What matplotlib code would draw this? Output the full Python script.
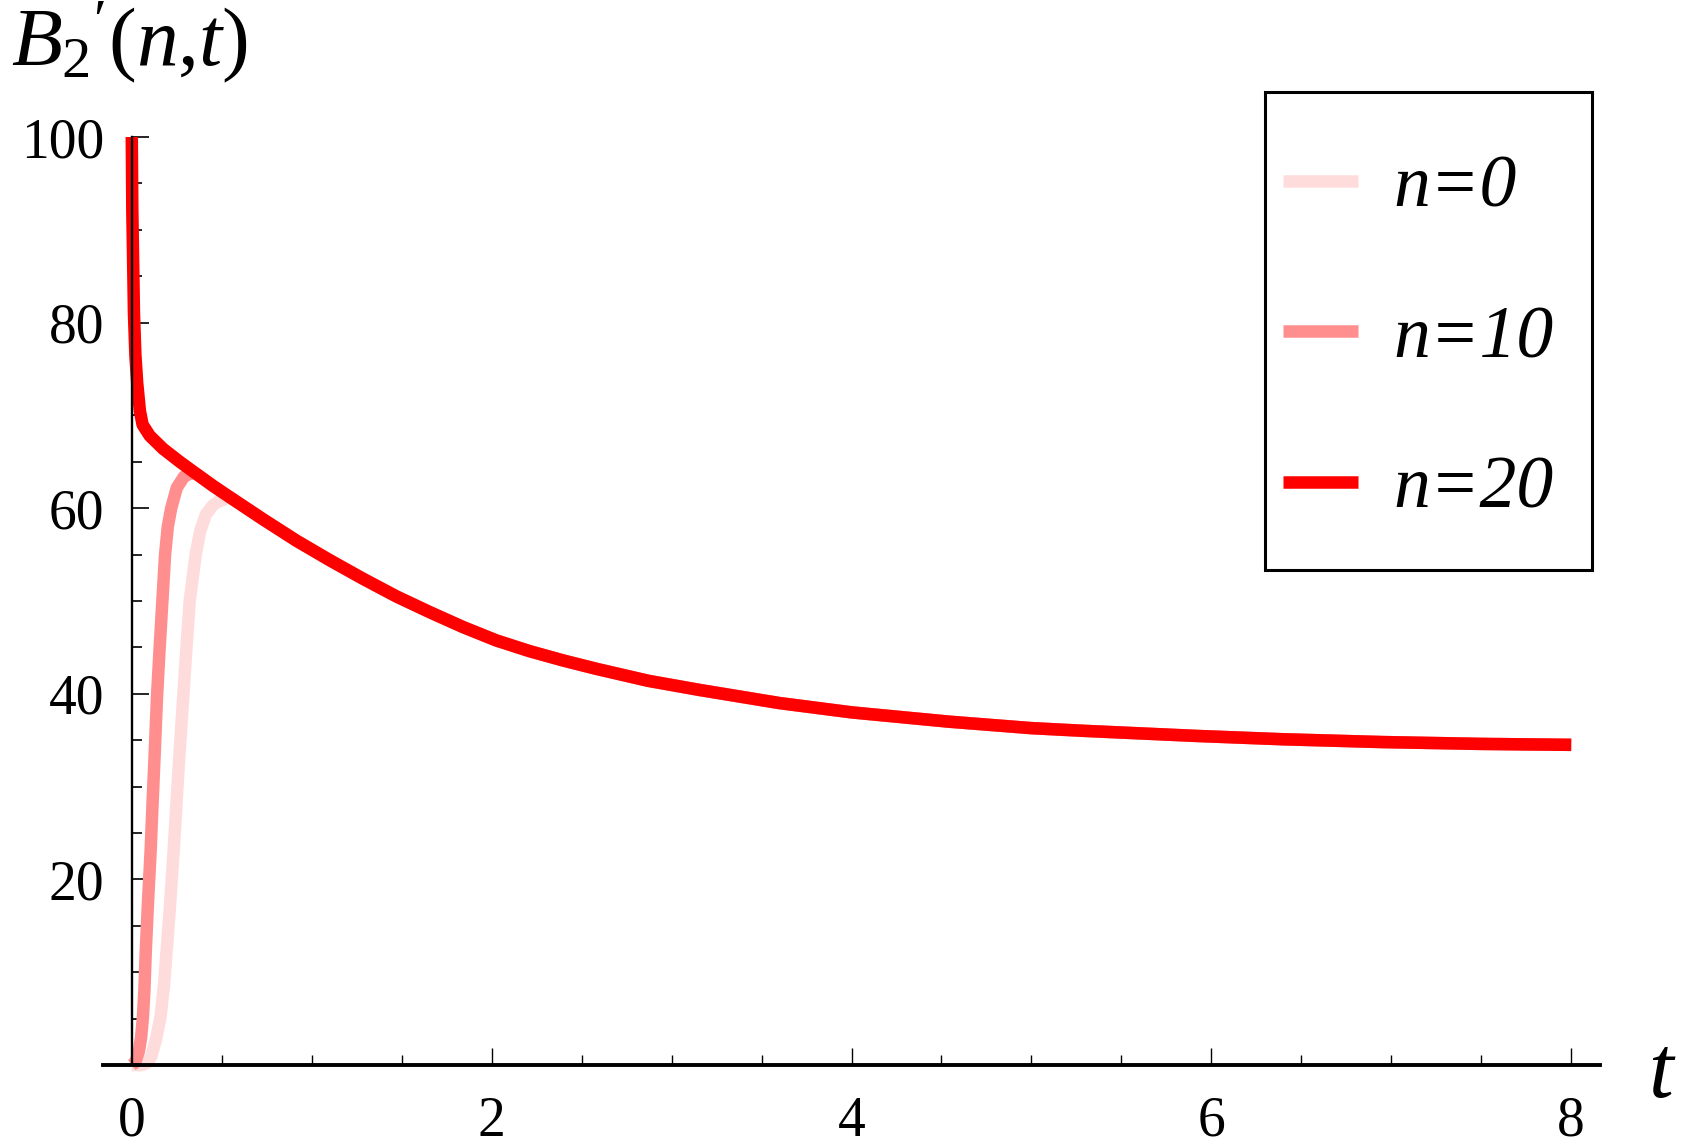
import numpy as np
import matplotlib
matplotlib.use("Agg")
import matplotlib.pyplot as plt
from matplotlib.ticker import MultipleLocator
from matplotlib.font_manager import FontProperties

plt.rcParams['font.family'] = ['Liberation Serif', 'DejaVu Serif']
plt.rcParams['mathtext.fontset'] = 'custom'
plt.rcParams['mathtext.rm'] = 'Liberation Serif'
plt.rcParams['mathtext.it'] = 'Liberation Serif:italic'

#------------------------------------------------------------------------------------------------------
# values

# common tail, all three curves lie on top of each other here
t_tail = [0.544, 0.73, 0.915, 1.1, 1.285, 1.47, 1.656, 1.84, 2.026, 2.21, 2.396, 2.58, 2.87,
          3.16, 3.6, 4.0, 4.54, 5.0, 5.3, 5.93, 6.4, 6.95, 7.5, 8.0]
b_tail = [61.2, 58.8, 56.5, 54.4, 52.4, 50.5, 48.8, 47.2, 45.75, 44.6, 43.6, 42.7, 41.4,
          40.4, 39.0, 38.0, 37.0, 36.3, 36.0, 35.45, 35.1, 34.8, 34.6, 34.5]

t_n0 = [0, 0.06, 0.09, 0.11, 0.135, 0.16, 0.18, 0.194, 0.21, 0.233, 0.26, 0.287, 0.304,
        0.322, 0.355, 0.38, 0.411, 0.45, 0.48, 0.52]
b_n0 = [0, 0, 0.3, 1.0, 2.8, 5.2, 8.8, 12.4, 16.5, 23.2, 32.0, 40.0, 45.0,
        50.0, 55.0, 57.5, 59.3, 60.3, 60.7, 61.0]

t_n10 = [0, 0.02, 0.04, 0.052, 0.062, 0.07, 0.078, 0.09, 0.105, 0.115, 0.125, 0.141, 0.155,
         0.17, 0.185, 0.2, 0.219, 0.25, 0.29, 0.33, 0.359, 0.452]
b_n10 = [0, 0.3, 1.5, 3.0, 5.2, 8.0, 12.4, 17.5, 23.2, 28.0, 32.5, 40.0, 45.0,
         50.0, 55.0, 58.0, 60.0, 62.2, 63.4, 63.8, 63.7, 62.4]

t_n20 = [0, 0.003, 0.008, 0.012, 0.02, 0.03, 0.045, 0.06, 0.1, 0.174, 0.267, 0.359, 0.452]
b_n20 = [100, 92, 86, 81, 76.5, 73.5, 70.5, 69.0, 67.8, 66.4, 65.0, 63.7, 62.4]

labels = ["n=0", "n=10", "n=20"]
colors = ["#ffdcdc", "#ff8f8f", "#ff0000"]

x_ticks = [0, 2, 4, 6, 8]
y_ticks = [20, 40, 60, 80, 100]

#------------------------------------------------------------------------------------------------------

W, H = 1686, 1146
fig = plt.figure(figsize=(W / 100, H / 100), dpi=100)
ax = fig.add_axes([103 / W, 1 - 1065 / H, (1600 - 103) / W, (1065 - 137) / H])

heads = [(t_n0, b_n0), (t_n10, b_n10), (t_n20, b_n20)]
for (th, bh), lab, col in zip(heads, labels, colors):
    t = np.concatenate([th, t_tail])
    b = np.concatenate([bh, b_tail])
    ax.plot(t, b, color=col, lw=9, label=lab, solid_capstyle='butt',
            solid_joinstyle='round', clip_on=False)

ax.set_xlim(-0.16, 8.16)
ax.set_ylim(0, 100)

ax.spines['top'].set_visible(False)
ax.spines['right'].set_visible(False)
ax.spines['left'].set_position(('data', 0))
ax.spines['left'].set_linewidth(1.7)
ax.spines['bottom'].set_linewidth(2.8)

ax.set_xticks(x_ticks)
ax.set_yticks(y_ticks)
ax.xaxis.set_minor_locator(MultipleLocator(0.5))
ax.yaxis.set_minor_locator(MultipleLocator(5))
ax.tick_params(axis='x', which='major', direction='in', length=12.5, width=1.0, pad=22, labelsize=40)
ax.tick_params(axis='x', which='minor', direction='in', length=7.5, width=1.0)
ax.tick_params(axis='y', which='major', direction='in', length=12.5, width=1.2, pad=20, labelsize=40)
ax.tick_params(axis='y', which='minor', direction='in', length=7.5, width=1.2)

# axis names
fig.text(11 / W, 1 - 0 / H, r"$B_{2}{}^{\prime}(n{,}t)$", fontsize=60, ha='left', va='top')
fig.text(1648 / W, 1 - 1097 / H, "t", fontsize=64, style='italic', ha='left', va='baseline')

# legend: entries from the plotted lines, box drawn separately
leg_font = FontProperties(family='Liberation Serif', style='italic', size=53)
leg = ax.legend(loc='upper left', bbox_to_anchor=(1283 / W, 1 - 155 / H),
                bbox_transform=fig.transFigure, borderaxespad=0, borderpad=0, prop=leg_font,
                handlelength=1.02, handletextpad=0.48, labelspacing=1.13, frameon=False)
box = plt.Rectangle((1265 / W, 1 - 570 / H), (1592 - 1265) / W, (570 - 92) / H,
                    transform=fig.transFigure, fill=False, edgecolor='black', lw=2.2)
fig.patches.append(box)

plt.savefig("out.png", dpi=100)
